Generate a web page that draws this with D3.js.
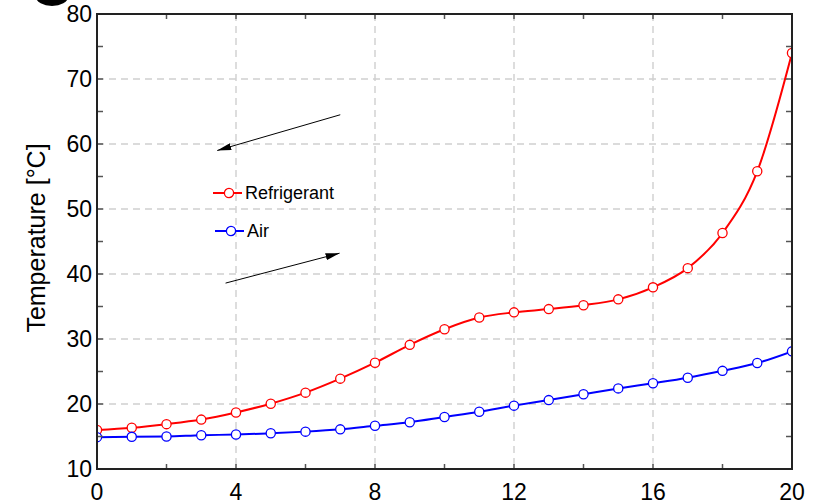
<!DOCTYPE html>
<html>
<head>
<meta charset="utf-8">
<script src="https://cdn.jsdelivr.net/npm/d3@7"></script>
<style>
  html, body { margin: 0; padding: 0; background: #fff; }
  svg { display: block; font-family: Arial, "Liberation Sans", sans-serif; }
</style>
</head>
<body>
<svg id="chart" width="816" height="504"></svg>
<script>
// Position along the exchanger and the two temperature profiles
const positions = [0, 1, 2, 3, 4, 5, 6, 7, 8, 9, 10, 11, 12, 13, 14, 15, 16, 17, 18, 19, 20];
const refrigerant = [16.0, 16.35, 16.9, 17.6, 18.7, 20.05, 21.75, 23.9, 26.35, 29.1, 31.5, 33.3, 34.1, 34.6, 35.2, 36.1, 37.95, 40.9, 46.3, 55.8, 74.0];
const air = [14.9, 14.95, 15.0, 15.2, 15.3, 15.5, 15.75, 16.1, 16.65, 17.2, 18.0, 18.8, 19.75, 20.6, 21.5, 22.4, 23.2, 24.05, 25.1, 26.3, 28.1];

const xMajorTicks = [0, 4, 8, 12, 16, 20];
const xMinorTicks = [2, 6, 10, 14, 18];
const yMajorTicks = [10, 20, 30, 40, 50, 60, 70, 80];
const yMinorTicks = [15, 25, 35, 45, 55, 65, 75];

const seriesNames = ["Refrigerant", "Air"];
const seriesColors = ["#ff0000", "#0000ff"];

// Flow-direction arrows, in data units: [x0, y0, x1, y1]
const flowArrows = [
  [7.0, 64.5, 3.46, 59.0],
  [3.7, 38.6, 6.98, 43.2]
];

const svg = d3.select("#chart");
const margin = { left: 97, right: 24, top: 14, bottom: 35 };
const W = 816, H = 504;

const x = d3.scaleLinear().domain([0, 20]).range([margin.left, W - margin.right]);
const y = d3.scaleLinear().domain([10, 80]).range([H - margin.bottom, margin.top]);

const x0 = x.range()[0], x1 = x.range()[1];
const yTop = y.range()[1], yBot = y.range()[0];

// Clip for data marks
const defs = svg.append("defs");
defs.append("clipPath").attr("id", "plot-clip")
  .append("rect").attr("x", x0).attr("y", yTop).attr("width", x1 - x0).attr("height", yBot - yTop);

// Dashed grid
const grid = svg.append("g").attr("stroke", "#cfcfcf").attr("stroke-width", 1.4).attr("stroke-dasharray", "7,5");
grid.selectAll("line.vx").data(xMajorTicks.slice(1, -1)).join("line")
  .attr("x1", d => x(d)).attr("x2", d => x(d)).attr("y1", yTop).attr("y2", yBot);
grid.selectAll("line.hy").data(yMajorTicks.slice(1, -1)).join("line")
  .attr("y1", d => y(d)).attr("y2", d => y(d)).attr("x1", x0).attr("x2", x1);

// Series
const line = d3.line().x((d, i) => x(positions[i])).y(d => y(d)).curve(d3.curveMonotoneX);
const plot = svg.append("g").attr("clip-path", "url(#plot-clip)");
[refrigerant, air].forEach((vals, k) => {
  plot.append("path").datum(vals).attr("d", line)
    .attr("fill", "none").attr("stroke", seriesColors[k]).attr("stroke-width", 2);
  plot.selectAll(null).data(vals).join("circle")
    .attr("cx", (d, i) => x(positions[i])).attr("cy", d => y(d)).attr("r", 4.6)
    .attr("fill", "#fff").attr("stroke", seriesColors[k]).attr("stroke-width", 1.3);
});

// Arrows
defs.append("marker").attr("id", "arrowhead").attr("viewBox", "0 0 10 10")
  .attr("refX", 10).attr("refY", 5).attr("markerWidth", 14).attr("markerHeight", 7)
  .attr("preserveAspectRatio", "none")
  .attr("markerUnits", "userSpaceOnUse").attr("orient", "auto")
  .append("path").attr("d", "M0,0 L10,5 L0,10 Z").attr("fill", "#000");
svg.selectAll("line.flow").data(flowArrows).join("line").attr("class", "flow")
  .attr("x1", d => x(d[0])).attr("y1", d => y(d[1]))
  .attr("x2", d => x(d[2])).attr("y2", d => y(d[3]))
  .attr("stroke", "#000").attr("stroke-width", 1).attr("marker-end", "url(#arrowhead)");

// Legend
const legend = svg.append("g").attr("transform", "translate(213,193)");
seriesNames.forEach((name, k) => {
  const g = legend.append("g").attr("transform", `translate(${k * 2},${k * 38})`);
  g.append("line").attr("x1", 0).attr("x2", 29).attr("y1", 0).attr("y2", 0)
    .attr("stroke", seriesColors[k]).attr("stroke-width", 2);
  g.append("circle").attr("cx", 16).attr("cy", 0).attr("r", 4.6)
    .attr("fill", "#fff").attr("stroke", seriesColors[k]).attr("stroke-width", 1.3);
  g.append("text").attr("x", 32).attr("y", 6).attr("font-size", 18).attr("fill", "#000").text(name);
});

// Inward ticks on all four sides
const ticks = svg.append("g").attr("stroke", "#555").attr("stroke-width", 1.5);
const xt = xMajorTicks.concat(xMinorTicks);
const yt = yMajorTicks.concat(yMinorTicks);
ticks.selectAll("line.bt").data(xt).join("line")
  .attr("x1", d => x(d)).attr("x2", d => x(d)).attr("y1", yBot).attr("y2", yBot - 5);
ticks.selectAll("line.tt").data(xt).join("line")
  .attr("x1", d => x(d)).attr("x2", d => x(d)).attr("y1", yTop).attr("y2", yTop + 5);
ticks.selectAll("line.lt").data(yt).join("line")
  .attr("y1", d => y(d)).attr("y2", d => y(d)).attr("x1", x0).attr("x2", x0 + 6);
ticks.selectAll("line.rt").data(yt).join("line")
  .attr("y1", d => y(d)).attr("y2", d => y(d)).attr("x1", x1).attr("x2", x1 - 6);

// Frame
svg.append("rect").attr("x", x0).attr("y", yTop).attr("width", x1 - x0).attr("height", yBot - yTop)
  .attr("fill", "none").attr("stroke", "#222").attr("stroke-width", 2);

// Tick labels
svg.append("g").selectAll("text").data(xMajorTicks).join("text")
  .attr("x", d => x(d)).attr("y", yBot + 31).attr("text-anchor", "middle")
  .attr("font-size", 23).text(d => d);
svg.append("g").selectAll("text").data(yMajorTicks).join("text")
  .attr("x", x0 - 5).attr("y", d => y(d) + 8).attr("text-anchor", "end")
  .attr("font-size", 23).text(d => d);

// Axis title
svg.append("text").attr("transform", `translate(45,238) rotate(-90)`)
  .attr("text-anchor", "middle").attr("font-size", 25).text("Temperature [°C]");

// Panel letter, cropped at the top edge
svg.append("ellipse").attr("cx", 52).attr("cy", -3).attr("rx", 16).attr("ry", 9).attr("fill", "#000");
</script>
</body>
</html>
